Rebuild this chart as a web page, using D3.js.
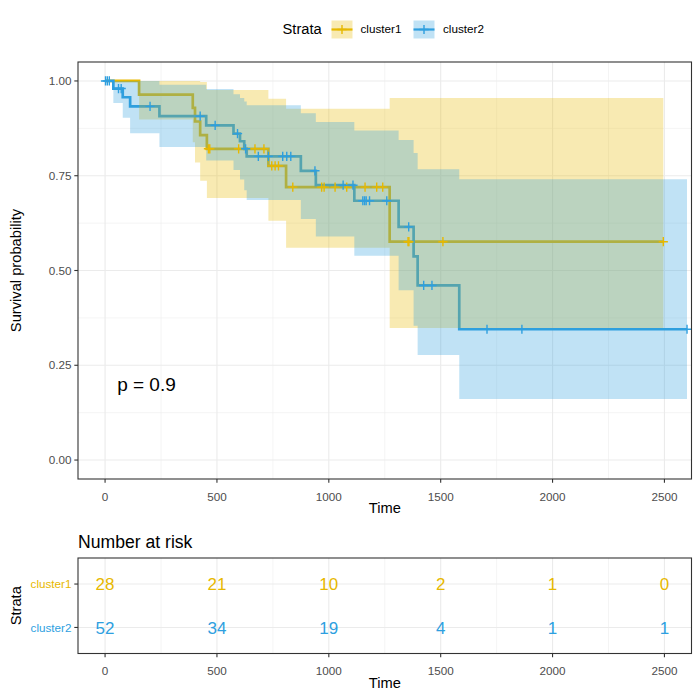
<!DOCTYPE html>
<html>
<head>
<meta charset="utf-8">
<script src="https://cdn.jsdelivr.net/npm/d3@7"></script>
<style>
  html, body { margin: 0; padding: 0; background: #fff; }
  svg text { font-family: "Liberation Sans", Arial, Helvetica, sans-serif; }
</style>
</head>
<body>
<svg id="chart" width="700" height="700"></svg>
<script>
// ---------------- data ----------------
const strata = ["cluster1", "cluster2"];
const colors = ["#E7B800", "#2E9FDF"];

// cluster1 Kaplan-Meier steps
const times1 = [0, 152, 392, 402, 425, 455, 730, 809, 1272];
const surv1  = [1, 0.964, 0.929, 0.893, 0.857, 0.821, 0.776, 0.720, 0.576];
const lower1 = [1, 0.898, 0.838, 0.785, 0.737, 0.691, 0.631, 0.560, 0.348];
const upper1 = [1, 1, 1, 1, 0.997, 0.976, 0.953, 0.927, 0.955];
const end1 = 2495;
const censor1 = [462, 468, 597, 670, 710, 745, 760, 775, 839, 968, 979, 1028, 1080, 1162, 1214, 1241, 1354, 1358, 1510, 2495];

// cluster2 Kaplan-Meier steps
const times2 = [0, 37, 79, 112, 243, 452, 574, 603, 622, 633, 875, 942, 1114, 1312, 1379, 1397, 1583];
const surv2  = [1, 0.980, 0.957, 0.933, 0.907, 0.883, 0.861, 0.841, 0.821, 0.801, 0.763, 0.725, 0.684, 0.615, 0.537, 0.4605, 0.345];
const lower2 = [1, 0.942, 0.903, 0.862, 0.826, 0.790, 0.765, 0.740, 0.712, 0.686, 0.636, 0.590, 0.539, 0.448, 0.354, 0.277, 0.161];
const upper2 = [1, 1, 1, 1, 0.990, 0.979, 0.965, 0.955, 0.946, 0.936, 0.915, 0.892, 0.869, 0.844, 0.810, 0.767, 0.741];
const end2 = 2601;
const censor2 = [2, 10, 19, 60, 72, 201, 425, 492, 592, 628, 685, 730, 794, 812, 830, 938, 1064, 1108, 1152, 1160, 1167, 1182, 1259, 1357, 1424, 1461, 1707, 1863, 2601];

// axis ticks
const xTicks = [0, 500, 1000, 1500, 2000, 2500];
const xMinor = [250, 750, 1250, 1750, 2250];
const yTicks = [0, 0.25, 0.5, 0.75, 1.0];
const yMinor = [0.125, 0.375, 0.625, 0.875];
const yTickLabels = ["0.00", "0.25", "0.50", "0.75", "1.00"];

// number at risk
const riskTimes = [0, 500, 1000, 1500, 2000, 2500];
const risk1 = [28, 21, 10, 2, 1, 0];
const risk2 = [52, 34, 19, 4, 1, 1];

const pvalText = "p = 0.9";

// ---------------- layout ----------------
const svg = d3.select("#chart");
svg.append("rect").attr("width", 700).attr("height", 700).attr("fill", "#fff");

const P = { left: 78, right: 691.5, top: 62, bottom: 479 };
const R = { left: 78, right: 691.5, top: 558, bottom: 653.5 };

const x = d3.scaleLinear().domain([-121, 2621]).range([P.left, P.right]);
const y = d3.scaleLinear().domain([-0.05, 1.05]).range([P.bottom, P.top]);
const yr = d3.scalePoint().domain(strata).range([R.top, R.bottom]).padding(0.6);

const gridMajor = "#EBEBEB", border = "#333333", tickText = "#4D4D4D";

function buildSeries(times, surv, lower, upper, end) {
  const pts = times.map((t, i) => ({ t, s: surv[i], lo: lower[i], up: upper[i] }));
  const last = pts[pts.length - 1];
  pts.push({ t: end, s: last.s, lo: last.lo, up: last.up });
  return pts;
}
const series = [
  buildSeries(times1, surv1, lower1, upper1, end1),
  buildSeries(times2, surv2, lower2, upper2, end2)
];
const censors = [censor1, censor2];
const stepTimes = [times1, times2];
const stepSurv = [surv1, surv2];

function survAt(k, t) {
  const ts = stepTimes[k];
  let idx = d3.bisectRight(ts, t) - 1;
  if (idx < 0) idx = 0;
  return stepSurv[k][idx];
}

// ---------------- main panel ----------------
const main = svg.append("g");
// grid
main.selectAll(".xmin").data(xMinor).join("line")
  .attr("x1", d => x(d)).attr("x2", d => x(d)).attr("y1", P.top).attr("y2", P.bottom)
  .attr("stroke", gridMajor).attr("stroke-width", 0.55);
main.selectAll(".ymin").data(yMinor).join("line")
  .attr("y1", d => y(d)).attr("y2", d => y(d)).attr("x1", P.left).attr("x2", P.right)
  .attr("stroke", gridMajor).attr("stroke-width", 0.55);
main.selectAll(".xmaj").data(xTicks).join("line")
  .attr("x1", d => x(d)).attr("x2", d => x(d)).attr("y1", P.top).attr("y2", P.bottom)
  .attr("stroke", gridMajor).attr("stroke-width", 1.1);
main.selectAll(".ymaj").data(yTicks).join("line")
  .attr("y1", d => y(d)).attr("y2", d => y(d)).attr("x1", P.left).attr("x2", P.right)
  .attr("stroke", gridMajor).attr("stroke-width", 1.1);

svg.append("clipPath").attr("id", "clipMain").append("rect")
  .attr("x", P.left).attr("y", P.top).attr("width", P.right - P.left).attr("height", P.bottom - P.top);
const plot = main.append("g").attr("clip-path", "url(#clipMain)");

const line = d3.line().x(d => x(d.t)).y(d => y(d.s)).curve(d3.curveStepAfter);
const area = d3.area().x(d => x(d.t)).y0(d => y(d.lo)).y1(d => y(d.up)).curve(d3.curveStepAfter);

// curves
series.forEach((pts, k) => {
  plot.append("path").attr("d", line(pts)).attr("fill", "none")
    .attr("stroke", colors[k]).attr("stroke-width", 2.7);
});
// confidence ribbons (drawn over curves)
series.forEach((pts, k) => {
  plot.append("path").attr("d", area(pts)).attr("fill", colors[k])
    .attr("fill-opacity", 0.3).attr("stroke", "none");
});
// censor marks
const plusPath = (cx, cy, h) => `M${cx - h},${cy}H${cx + h}M${cx},${cy - h}V${cy + h}`;
censors.forEach((cs, k) => {
  plot.append("g").selectAll("path").data(cs).join("path")
    .attr("d", t => plusPath(x(t), y(survAt(k, t)), 4.6))
    .attr("stroke", colors[k]).attr("stroke-width", 1.4).attr("fill", "none");
});

// p-value
main.append("text").attr("x", x(54)).attr("y", y(0.2)).attr("dy", "0.36em")
  .attr("font-size", 19).attr("fill", "#000").text(pvalText);

// border
main.append("rect").attr("x", P.left).attr("y", P.top)
  .attr("width", P.right - P.left).attr("height", P.bottom - P.top)
  .attr("fill", "none").attr("stroke", border).attr("stroke-width", 1.1);

// x axis
const xAxisG = svg.append("g");
xAxisG.selectAll("line").data(xTicks).join("line")
  .attr("x1", d => x(d)).attr("x2", d => x(d)).attr("y1", P.bottom).attr("y2", P.bottom + 3.7)
  .attr("stroke", border).attr("stroke-width", 1.1);
xAxisG.selectAll("text").data(xTicks).join("text")
  .attr("x", d => x(d)).attr("y", P.bottom + 13.5).attr("dy", "0.71em").attr("text-anchor", "middle")
  .attr("font-size", 11.7).attr("fill", tickText).text(d => d);
svg.append("text").attr("x", (P.left + P.right) / 2).attr("y", 508).attr("dy", "0.36em")
  .attr("text-anchor", "middle").attr("font-size", 14.7).attr("fill", "#000").text("Time");

// y axis
const yAxisG = svg.append("g");
yAxisG.selectAll("line").data(yTicks).join("line")
  .attr("x1", P.left - 3.7).attr("x2", P.left).attr("y1", d => y(d)).attr("y2", d => y(d))
  .attr("stroke", border).attr("stroke-width", 1.1);
yAxisG.selectAll("text").data(yTicks).join("text")
  .attr("x", P.left - 6.5).attr("y", d => y(d)).attr("dy", "0.36em").attr("text-anchor", "end")
  .attr("font-size", 11.7).attr("fill", tickText).text((d, i) => yTickLabels[i]);
svg.append("text").attr("transform", `translate(15.5,${(P.top + P.bottom) / 2}) rotate(-90)`)
  .attr("dy", "0.36em").attr("text-anchor", "middle").attr("font-size", 14.7).attr("fill", "#000")
  .text("Survival probability");

// legend
const lg = svg.append("g");
lg.append("text").attr("x", 282.5).attr("y", 29).attr("dy", "0.36em")
  .attr("font-size", 14.7).attr("fill", "#000").text("Strata");
const keyX = [331.5, 413.5], labX = [360.5, 443];
strata.forEach((s, k) => {
  const kx = keyX[k], ky = 20.5, kw = 21, kh = 18;
  lg.append("rect").attr("x", kx).attr("y", ky).attr("width", kw).attr("height", kh)
    .attr("fill", colors[k]).attr("fill-opacity", 0.3);
  lg.append("line").attr("x1", kx).attr("x2", kx + kw).attr("y1", ky + kh / 2).attr("y2", ky + kh / 2)
    .attr("stroke", colors[k]).attr("stroke-width", 2.2);
  lg.append("path").attr("d", plusPath(kx + kw / 2, ky + kh / 2, 4.6))
    .attr("stroke", colors[k]).attr("stroke-width", 1.4);
  lg.append("text").attr("x", labX[k]).attr("y", 29).attr("dy", "0.36em")
    .attr("font-size", 11.7).attr("fill", "#000").text(s);
});

// ---------------- risk table ----------------
svg.append("text").attr("x", R.left).attr("y", 541.5).attr("dy", "0.36em")
  .attr("font-size", 17.6).attr("fill", "#000").text("Number at risk");

const rt = svg.append("g");
rt.selectAll(".rxmin").data(xMinor).join("line")
  .attr("x1", d => x(d)).attr("x2", d => x(d)).attr("y1", R.top).attr("y2", R.bottom)
  .attr("stroke", gridMajor).attr("stroke-width", 0.55);
rt.selectAll(".rxmaj").data(xTicks).join("line")
  .attr("x1", d => x(d)).attr("x2", d => x(d)).attr("y1", R.top).attr("y2", R.bottom)
  .attr("stroke", gridMajor).attr("stroke-width", 1.1);
rt.selectAll(".rymaj").data(strata).join("line")
  .attr("x1", R.left).attr("x2", R.right).attr("y1", d => yr(d)).attr("y2", d => yr(d))
  .attr("stroke", gridMajor).attr("stroke-width", 1.1);

const riskData = [risk1, risk2];
strata.forEach((s, k) => {
  rt.append("g").selectAll("text").data(riskTimes).join("text")
    .attr("x", d => x(d)).attr("y", yr(s)).attr("dy", "0.36em").attr("text-anchor", "middle")
    .attr("font-size", 17).attr("fill", colors[k]).text((d, i) => riskData[k][i]);
});

rt.append("rect").attr("x", R.left).attr("y", R.top)
  .attr("width", R.right - R.left).attr("height", R.bottom - R.top)
  .attr("fill", "none").attr("stroke", border).attr("stroke-width", 1.1);

rt.selectAll(".rxt").data(xTicks).join("line")
  .attr("x1", d => x(d)).attr("x2", d => x(d)).attr("y1", R.bottom).attr("y2", R.bottom + 3.7)
  .attr("stroke", border).attr("stroke-width", 1.1);
rt.selectAll(".rxl").data(xTicks).join("text")
  .attr("x", d => x(d)).attr("y", R.bottom + 13.5).attr("dy", "0.71em").attr("text-anchor", "middle")
  .attr("font-size", 11.7).attr("fill", tickText).text(d => d);
svg.append("text").attr("x", (R.left + R.right) / 2).attr("y", 683).attr("dy", "0.36em")
  .attr("text-anchor", "middle").attr("font-size", 14.7).attr("fill", "#000").text("Time");

rt.selectAll(".ryt").data(strata).join("line")
  .attr("x1", R.left - 3.7).attr("x2", R.left).attr("y1", d => yr(d)).attr("y2", d => yr(d))
  .attr("stroke", border).attr("stroke-width", 1.1);
rt.selectAll(".ryl").data(strata).join("text")
  .attr("x", R.left - 6.5).attr("y", d => yr(d)).attr("dy", "0.36em").attr("text-anchor", "end")
  .attr("font-size", 11.7).attr("fill", (d, i) => colors[i]).text(d => d);
svg.append("text").attr("transform", `translate(15.5,${(R.top + R.bottom) / 2}) rotate(-90)`)
  .attr("dy", "0.36em").attr("text-anchor", "middle").attr("font-size", 14.7).attr("fill", "#000")
  .text("Strata");
</script>
</body>
</html>
